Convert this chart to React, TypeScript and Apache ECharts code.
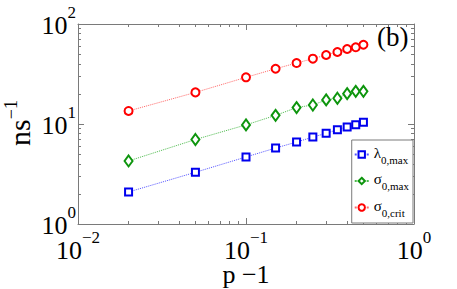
import React, { useEffect, useRef } from "react";
import * as echarts from "echarts";

const pValues = [0.02, 0.05, 0.1, 0.15, 0.2, 0.25, 0.3, 0.35, 0.4, 0.45, 0.5];
const lambdaMax = [2.09, 3.29, 4.68, 5.75, 6.6, 7.4, 8.07, 8.78, 9.33, 9.84, 10.4];
const sigmaMax = [4.27, 7.0, 9.8, 12.2, 14.6, 15.5, 17.4, 18.1, 20.1, 21.2, 21.2];
const sigmaCrit = [13.5, 20.7, 29.3, 35.7, 40.7, 45, 49, 52.5, 56.2, 58.5, 62];
const xTickValues = [0.01, 0.1, 1];
const yTickValues = [1, 10, 100];
const xMinorTicks = [0.02, 0.03, 0.04, 0.05, 0.06, 0.07, 0.08, 0.09, 0.2, 0.3, 0.4, 0.5, 0.6, 0.7, 0.8, 0.9];
const yMinorTicks = [2, 3, 4, 5, 6, 7, 8, 9, 20, 30, 40, 50, 60, 70, 80, 90];

const FONT = "Liberation Serif";
const FRAME = "#7a7a7a";

const supText = (v: number) => {
  const e = Math.round(Math.log10(v));
  return "{b|10}{s|" + String(e).replace("-", "\u2212") + "}";
};

const labelRich = {
  b: { fontFamily: FONT, fontSize: 26, fill: "#000", lineHeight: 30, padding: [13, 0, 0, 0] },
  s: { fontFamily: FONT, fontSize: 17, fill: "#000", lineHeight: 17, verticalAlign: "top" },
};

export default function App() {
  const ref = useRef<HTMLDivElement>(null);
  useEffect(() => {
    if (!ref.current) return;
    const chart = echarts.init(ref.current, undefined, { renderer: "svg" });
    const base = { type: "log", logBase: 10, splitLine: { show: false }, axisLabel: { show: false } };
    const xRange = { min: 0.01, max: 1 };
    const yRange = { min: 1, max: 100 };
    const line = { show: true, lineStyle: { color: FRAME, width: 1 } };
    const hidden = { show: false };
    const major = { show: true, inside: true, length: 6, lineStyle: { color: FRAME } };
    chart.setOption({
      animation: false,
      grid: { left: 78, top: 24, right: 43, bottom: 65, containLabel: false },
      xAxis: [
        { ...base, ...xRange, position: "bottom", axisLine: line, axisTick: major },
        {
          ...base, ...xRange, position: "bottom", axisLine: hidden,
          axisTick: { show: true, inside: true, length: 3, customValues: xMinorTicks, lineStyle: { color: FRAME } },
        },
        { ...base, ...xRange, position: "top", axisLine: line, axisTick: major },
        {
          ...base, ...xRange, position: "top", axisLine: hidden,
          axisTick: { show: true, inside: true, length: 3, customValues: xMinorTicks, lineStyle: { color: FRAME } },
        },
      ],
      yAxis: [
        { ...base, ...yRange, position: "left", axisLine: line, axisTick: major },
        {
          ...base, ...yRange, position: "left", axisLine: hidden,
          axisTick: { show: true, inside: true, length: 3, customValues: yMinorTicks, lineStyle: { color: FRAME } },
        },
        { ...base, ...yRange, position: "right", axisLine: line, axisTick: major },
        {
          ...base, ...yRange, position: "right", axisLine: hidden,
          axisTick: { show: true, inside: true, length: 3, customValues: yMinorTicks, lineStyle: { color: FRAME } },
        },
      ],
      legend: {
        orient: "vertical",
        right: 44,
        bottom: 66,
        backgroundColor: "#fff",
        borderColor: FRAME,
        borderWidth: 1,
        borderRadius: 0,
        padding: [4, 4, 5, 2],
        itemGap: 5.5,
        itemWidth: 14,
        itemHeight: 8,
        data: ["lambda", "smax", "scrit"],
        formatter: (name: string) => {
          if (name === "lambda") return "{g|\u03bb}{s|0,max}";
          if (name === "smax") return "{g|\u03c3}{s|0,max}";
          return "{g|\u03c3}{s|0,crit}";
        },
        textStyle: {
          rich: {
            g: { fontFamily: FONT, fontSize: 15, color: "#000", lineHeight: 20, padding: [0, 0, 4, 0] },
            s: { fontFamily: FONT, fontSize: 11, color: "#000", lineHeight: 20, padding: [10, 0, 0, 0] },
          },
        },
      },
      series: [
        {
          name: "lambda", type: "line", data: pValues.map((p, i) => [p, lambdaMax[i]]),
          symbol: "emptyRect", symbolSize: 7, color: "#0000ee",
          lineStyle: { type: "dotted", width: 1, color: "#5555ff" },
          itemStyle: { borderWidth: 2, color: "#0000ee" },
        },
        {
          name: "smax", type: "line", data: pValues.map((p, i) => [p, sigmaMax[i]]),
          symbol: "emptyDiamond", symbolSize: [8, 11], color: "#0d950d",
          lineStyle: { type: "dotted", width: 1, color: "#4cbb4c" },
          itemStyle: { borderWidth: 2, color: "#0d950d" },
        },
        {
          name: "scrit", type: "line", data: pValues.map((p, i) => [p, sigmaCrit[i]]),
          symbol: "emptyCircle", symbolSize: 8, color: "#ff0000",
          lineStyle: { type: "dotted", width: 1, color: "#ff6666" },
          itemStyle: { borderWidth: 2, color: "#ff0000" },
        },
      ],
    });

    const px = (v: number) => chart.convertToPixel({ xAxisIndex: 0 }, v) as number;
    const py = (v: number) => chart.convertToPixel({ yAxisIndex: 0 }, v) as number;
    const axisY = py(yRange.min);
    const axisX = px(xRange.min);
    const xMid = (px(xRange.min) + px(xRange.max)) / 2;

    const graphics: any[] = [];
    xTickValues.forEach((v) => {
      graphics.push({
        type: "text",
        x: px(v),
        y: axisY + 5,
        style: { text: supText(v), align: "center", verticalAlign: "top", rich: labelRich },
      });
    });
    yTickValues.forEach((v) => {
      graphics.push({
        type: "text",
        x: axisX - 2,
        y: py(v) - 5.5,
        style: { text: supText(v), align: "right", verticalAlign: "middle", rich: labelRich },
      });
    });
    graphics.push({
      type: "text",
      x: xMid,
      y: 274,
      style: {
        text: "p \u22121", fontFamily: FONT, fontSize: 26, lineHeight: 22, fill: "#000",
        align: "center", verticalAlign: "middle",
      },
    });
    graphics.push({
      type: "text",
      left: 377,
      top: 23,
      style: { text: "(b)", fontFamily: FONT, fontSize: 27, fill: "#000" },
    });
    graphics.push({
      type: "text",
      x: 36,
      y: 123,
      rotation: Math.PI / 2,
      style: {
        text: "{a|ns}{b|\u22121}",
        align: "center",
        verticalAlign: "bottom",
        rich: {
          a: { fontFamily: FONT, fontSize: 30, fill: "#000" },
          b: { fontFamily: FONT, fontSize: 18, fill: "#000", padding: [0, 0, 16, 0] },
        },
      },
    });
    chart.setOption({ graphic: graphics });
    return () => chart.dispose();
  }, []);
  return <div ref={ref} style={{ width: 457, height: 289, position: "absolute", left: 0, top: 0 }} />;
}
